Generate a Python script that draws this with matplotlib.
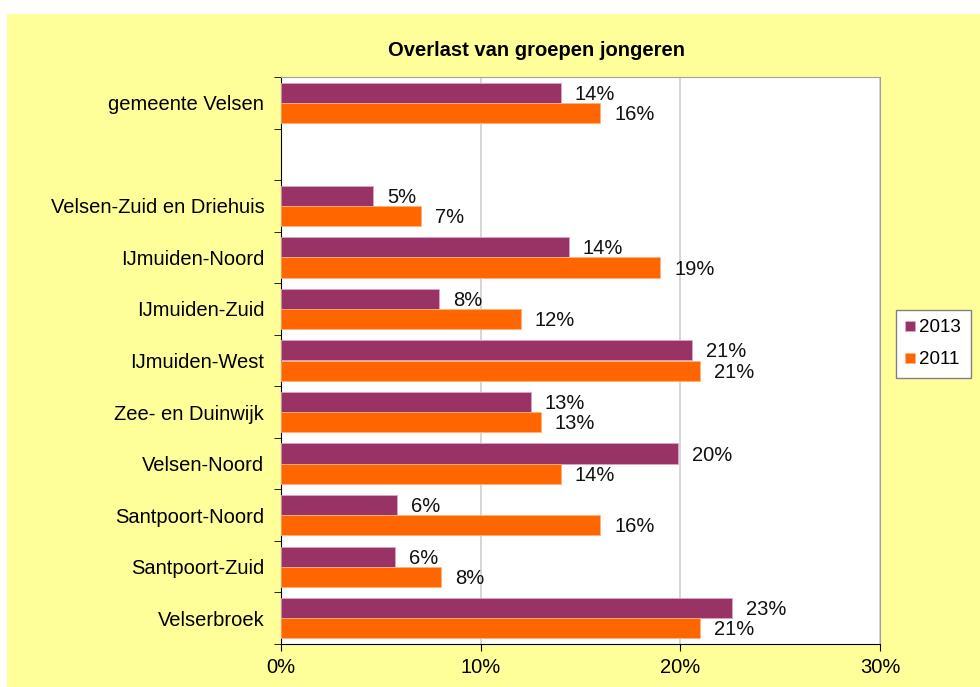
import numpy as np
import matplotlib.pyplot as plt
from matplotlib.patches import Rectangle

plt.rcParams['font.family'] = ['Liberation Sans', 'DejaVu Sans']

    #Data (percent)
categories = ["gemeente Velsen", "", "Velsen-Zuid en Driehuis", "IJmuiden-Noord",
              "IJmuiden-Zuid", "IJmuiden-West", "Zee- en Duinwijk", "Velsen-Noord",
              "Santpoort-Noord", "Santpoort-Zuid", "Velserbroek"]
vals_2013 = [14.0, np.nan, 4.6, 14.4, 7.9, 20.6, 12.5, 19.9, 5.8, 5.7, 22.6]
vals_2011 = [16.0, np.nan, 7.0, 19.0, 12.0, 21.0, 13.0, 14.0, 16.0, 8.0, 21.0]
labels_2013 = ["14%", "", "5%", "14%", "8%", "21%", "13%", "20%", "6%", "6%", "23%"]
labels_2011 = ["16%", "", "7%", "19%", "12%", "21%", "13%", "14%", "16%", "8%", "21%"]
xticks = [0, 10, 20, 30]

c13 = "#993366"
c11 = "#FF6600"
fs = 14.5

fig = plt.figure(figsize=(9.8, 6.87), dpi=100)
fig.patch.set_facecolor("white")
    #yellow chart area with a little white margin top/left
fig.patches.append(Rectangle((7/980, 0), 1 - 7/980, 1 - 14/687, transform=fig.transFigure,
                             facecolor="#FFFF99", edgecolor="none", zorder=-10))

ax = fig.add_axes([281/980, 1 - 644/687, 599/980, 567/687])
ax.set_facecolor("white")

y = np.arange(len(categories))
h = 0.39
ax.barh(y - h/2, vals_2013, height=h, color=c13, edgecolor="#D9A6C6", linewidth=0.6, label="2013", zorder=3)
ax.barh(y + h/2, vals_2011, height=h, color=c11, edgecolor="#FFB080", linewidth=0.6, label="2011", zorder=3)

for i in range(len(categories)):
    if labels_2013[i]:
        ax.text(vals_2013[i] + 0.7, y[i] - h/2 + 0.03, labels_2013[i], va="center", ha="left", fontsize=fs, color="#111111")
        ax.text(vals_2011[i] + 0.7, y[i] + h/2 + 0.03, labels_2011[i], va="center", ha="left", fontsize=fs, color="#111111")

ax.set_xlim(0, 30)
ax.set_ylim(len(categories) - 0.5, -0.5)
ax.set_xticks(xticks)
ax.set_xticklabels([f"{v}%" for v in xticks], fontsize=fs)
ax.set_yticks(y)
ax.set_yticklabels(categories, fontsize=fs)
ax.set_yticks(np.arange(len(categories) + 1) - 0.5, minor=True)
ax.tick_params(axis="y", which="major", length=0, pad=12)
ax.tick_params(axis="y", which="minor", length=5, color="black")
ax.tick_params(axis="x", length=5, pad=5)

ax.grid(axis="x", color="#D0D0D0", linewidth=1.2, zorder=0)
for s in ["top", "right"]:
    ax.spines[s].set_color("#A0A0A0")
ax.spines["left"].set_color("black")
ax.spines["bottom"].set_color("black")

fig.text(536/980, 1 - 50/687, "Overlast van groepen jongeren", fontsize=fs, fontweight="bold",
         ha="center", va="center")

leg = fig.legend(loc="center left", bbox_to_anchor=(896/980, 1 - 344/687), fontsize=13.5,
                 frameon=True, fancybox=False, edgecolor="#808080", framealpha=1,
                 handlelength=0.5, handleheight=0.5, handletextpad=0.25,
                 labelspacing=0.8, borderpad=0.5, borderaxespad=0)
leg.get_frame().set_linewidth(1.0)

plt.savefig("out.png", dpi=100)
